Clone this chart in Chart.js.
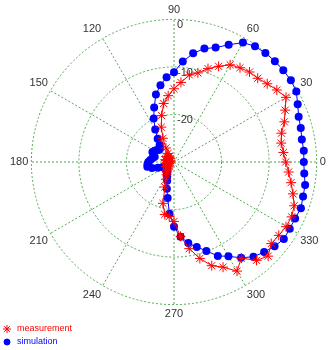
<!DOCTYPE html>
<html>
<head>
<meta charset="utf-8">
<script src="https://cdn.jsdelivr.net/npm/chart.js@4.4.1/dist/chart.umd.min.js"></script>
<style>
  body { margin: 0; background: #fff; }
</style>
</head>
<body>
<canvas id="polar" width="332" height="350"></canvas>
<script>
// angle in degrees (0 = right, counter-clockwise), level in dB
var angles = [0, 5, 10, 15, 20, 25, 30, 35, 40, 45, 50, 55, 60, 65, 70, 75, 80, 85,
  90, 95, 100, 105, 110, 115, 120, 125, 130, 135, 140, 145, 150, 155, 160, 165, 170, 175,
  180, 185, 190, 195, 200, 205, 210, 215, 220, 225, 230, 235, 240, 245, 250, 255, 260, 265,
  270, 275, 280, 285, 290, 295, 300, 305, 310, 315, 320, 325, 330, 335, 340, 345, 350, 355];

var measurement = [-6.5, -6.9, -7.1, -6.6, -5.3, -4.2, -2.8, -3.6, -4.4, -5.1,
  -5.3, -5.8, -6.4, -7.8, -9.1, -10.6, -11.4, -13.2, -14.6, -16.0,
  -17.5, -19.9, -22.2, -24.5, -26.6, -27.8, -28.4, -28.9, -28.5, -28.0,
  -28.6, -29.1, -28.6, -28.1, -28.3, -28.8, -29.2, -28.7, -28.2, -28.5,
  -28.9, -28.4, -28.0, -28.3, -28.7, -28.2, -27.8, -27.4, -26.9, -26.0,
  -24.4, -21.0, -18.8, -18.5, -17.5, -14.3, -11.5, -9.0, -6.8, -5.6,
  -3.5, -5.3, -3.0, -2.0, -3.3, -3.1, -2.8, -2.7, -3.1, -4.1,
  -5.0, -5.8];

var simulation = [-2.7, -2.6, -2.7, -2.4, -2.1, -1.3, -0.3, 0, 0, 0,
  -0.1, -0.3, -1.0, -2.8, -4.4, -5.3, -6.8, -8.8, -11.1, -12.1,
  -13.6, -15.3, -17.8, -19.9, -22.1, -24.0, -25.3, -25.8, -26.0, -25.6,
  -25.3, -25.0, -25.4, -25.8, -25.4, -25.0, -24.6, -24.4, -24.3, -25.2,
  -26.4, -27.4, -27.9, -28.2, -28.0, -27.6, -27.8, -27.4, -27.0, -26.6,
  -25.8, -24.2, -22.3, -19.1, -16.4, -14.2, -12.7, -11.5, -10.1, -8.2,
  -7.1, -5.4, -4.0, -3.2, -2.4, -1.8, -1.9, -1.9, -1.6, -1.9,
  -2.0, -2.5];

var angleTicks = [0, 30, 60, 90, 120, 150, 180, 210, 240, 270, 300, 330];
var radialTicks = [0, -10, -20];

var gridGreen = 'rgb(84, 168, 84)';
var fontFamily = '"Liberation Sans", Arial, sans-serif';

// radar runs clockwise from the top, so start at 90 and go backwards
var order = [];
for (var k = 0; k < angles.length; k++) {
  order.push(angles.indexOf((450 - 5 * k) % 360));
}
var labels = order.map(function (i) { return angles[i]; });

// dB labels sit just right of the 90 spoke, under the datasets
var polarTickLabels = {
  id: 'polarTickLabels',
  beforeDatasetsDraw: function (chart) {
    var r = chart.scales.r;
    var ctx = chart.ctx;
    ctx.save();
    ctx.font = '11px ' + fontFamily;
    ctx.fillStyle = '#333';
    ctx.textAlign = 'left';
    ctx.textBaseline = 'middle';
    radialTicks.forEach(function (v) {
      var y = r.yCenter - r.getDistanceFromCenterForValue(v) + 6;
      ctx.fillText(String(v), r.xCenter + 3, y);
    });
    ctx.restore();
  }
};

// stacked legend in the bottom left corner
var legendRadius = [4, 3];
var polarLegend = {
  id: 'polarLegend',
  afterDraw: function (chart) {
    var ctx = chart.ctx;
    ctx.save();
    ctx.font = '9px ' + fontFamily;
    ctx.textAlign = 'left';
    ctx.textBaseline = 'middle';
    chart.data.datasets.forEach(function (ds, i) {
      var y = 329 + i * 13;
      ctx.strokeStyle = ds.borderColor;
      ctx.fillStyle = ds.backgroundColor;
      ctx.lineWidth = 1;
      Chart.helpers.drawPoint(ctx, {
        pointStyle: ds.pointStyle,
        radius: legendRadius[i],
        borderWidth: 1,
        rotation: 0
      }, 7, y);
      ctx.fillStyle = ds.borderColor;
      ctx.fillText(ds.label, 17, y);
    });
    ctx.restore();
  }
};

new Chart(document.getElementById('polar'), {
  type: 'radar',
  data: {
    labels: labels,
    datasets: [{
      label: 'measurement',
      data: order.map(function (i) { return measurement[i]; }),
      borderColor: 'rgb(255, 0, 0)',
      backgroundColor: 'rgb(255, 0, 0)',
      borderWidth: 1,
      fill: false,
      tension: 0,
      pointStyle: 'star',
      pointRadius: 5,
      pointBorderWidth: 1
    }, {
      label: 'simulation',
      data: order.map(function (i) { return simulation[i]; }),
      borderColor: 'rgb(0, 0, 255)',
      backgroundColor: 'rgb(0, 0, 255)',
      borderWidth: 1,
      fill: false,
      tension: 0,
      pointStyle: 'circle',
      pointRadius: 4,
      pointBorderWidth: 0
    }]
  },
  options: {
    responsive: false,
    animation: false,
    layout: { padding: { left: 4, right: -2, top: 3, bottom: 29 } },
    plugins: {
      legend: { display: false },
      tooltip: { enabled: false }
    },
    scales: {
      r: {
        min: -30,
        max: 0,
        ticks: { stepSize: 10, display: false },
        grid: { circular: true, color: gridGreen, lineWidth: 1 },
        border: { dash: [2, 2] },
        angleLines: {
          color: gridGreen,
          borderDash: [2, 2],
          lineWidth: function (c) { return angleTicks.indexOf(labels[c.index]) >= 0 ? 1 : 0; }
        },
        pointLabels: {
          padding: 3,
          color: '#333',
          font: { family: fontFamily, size: 11 },
          callback: function (label) {
            return angleTicks.indexOf(label) >= 0 ? String(label) : '';
          }
        }
      }
    }
  },
  plugins: [polarTickLabels, polarLegend]
});
</script>
</body>
</html>
